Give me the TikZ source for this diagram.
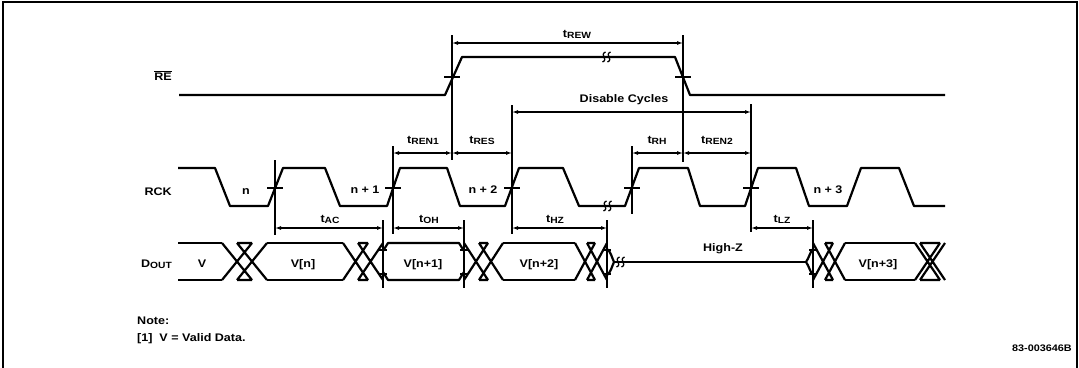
\documentclass[tikz,border=0pt]{standalone}
\usepackage{fontspec}
\setmainfont[FakeStretch=1.14]{Liberation Sans}
\usetikzlibrary{arrows.meta}
\newcommand{\tsb}[1]{t\raisebox{-1.6pt}{\fontsize{9}{10}\selectfont #1}}
\begin{document}
\begin{tikzpicture}[x=1pt,y=-1pt,
  font=\fontsize{11}{13}\selectfont\bfseries,
  sig/.style={line width=2.2pt,line join=round},
  thinl/.style={line width=1.1pt},
  dim/.style={line width=1.1pt,{Latex[length=6pt,width=4pt]}-{Latex[length=6pt,width=4pt]}},
  lbl/.style={inner sep=0pt,anchor=base},
  brk/.style={line width=1.3pt}]
\useasboundingbox (0,0) rectangle (1079,367);
\draw[line width=2pt] (3,370) -- (3,2) -- (1077,2) -- (1077,370);

% signal names
\node[lbl,anchor=base east] (lRE) at (172,80) {\(\overline{\mbox{\bfseries RE}}\)};
\node[lbl,anchor=base east] (lRCK) at (172,195) {RCK};
\node[lbl,anchor=base east] (lD) at (172,267) {D\raisebox{-1pt}{\fontsize{9}{10}\selectfont OUT}};

% RE waveform
\draw[sig] (179,95) -- (445,95) -- (462,57) -- (675,57) -- (690,95) -- (945,95);
\draw[thinl] (444,77) -- (460,77);
\draw[thinl] (675,77) -- (691,77);
\foreach \x in {604,609} \draw[brk] (\x+1.5,52) .. controls (\x-5,55) and (\x+5,59) .. (\x-1.5,62);

% RCK waveform
\draw[sig] (178,168) -- (215,168) -- (230,206) -- (268,206) -- (283,168) -- (325,168)
  -- (340,206) -- (387,206) -- (400,168) -- (447,168) -- (460,206) -- (505,206)
  -- (519,168) -- (563,168) -- (579,206) -- (625,206) -- (639,168) -- (688,168)
  -- (700,206) -- (745,206) -- (758,168) -- (796,168) -- (809,206) -- (847,206)
  -- (861,168) -- (899,168) -- (914,206) -- (945,206);
\foreach \x in {275,393,512,632,751} \draw[thinl] (\x-8,188) -- (\x+8,188);
\foreach \x in {605,610} \draw[brk] (\x+1.5,201) .. controls (\x-5,204) and (\x+5,208) .. (\x-1.5,211);
\node[lbl] (ln) at (246,194) {n};
\node[lbl] (ln1) at (365,193) {n + 1};
\node[lbl] (ln2) at (483,193) {n + 2};
\node[lbl] (ln3) at (828,193) {n + 3};

% DOUT waveform
\draw[sig] (178,243) -- (222,243) (178,280) -- (222,280);
\draw[sig] (222,243) -- (252,280) (222,280) -- (252,243) (237,243) -- (267,280) (237,280) -- (267,243)
  (237,243) -- (252,243) (237,280) -- (252,280);
\draw[sig] (267,243) -- (343,243) (267,280) -- (343,280);
\draw[sig] (343,243) -- (368,280) (343,280) -- (368,243) (358,243) -- (383,280) (358,280) -- (383,243)
  (358,243) -- (368,243) (358,280) -- (368,280);
\draw[sig] (383,251) -- (388,243) -- (459,243) -- (464,251) (383,272) -- (388,280) -- (459,280) -- (464,272);
\draw[sig] (464,243) -- (488,280) (464,280) -- (488,243) (479,243) -- (503,280) (479,280) -- (503,243)
  (479,243) -- (488,243) (479,280) -- (488,280);
\draw[sig] (503,243) -- (575,243) (503,280) -- (575,280);
\draw[sig] (575,243) -- (595,280) (575,280) -- (595,243) (587,243) -- (607,280) (587,280) -- (607,243)
  (587,243) -- (595,243) (587,280) -- (595,280);
\draw[sig] (607,249) .. controls (611,252) and (612,258) .. (614,262)
  (607,275) .. controls (611,272) and (612,266) .. (614,262);
\draw[sig] (614,262) -- (806,262);
\foreach \x in {618,623} \draw[brk] (\x+1.5,257) .. controls (\x-5,260) and (\x+5,264) .. (\x-1.5,267);
\draw[sig] (806,262) .. controls (809,258) and (810,252) .. (813,249)
  (806,262) .. controls (809,266) and (810,272) .. (813,275);
\draw[sig] (813,243) -- (833,280) (813,280) -- (833,243) (825,243) -- (845,280) (825,280) -- (845,243)
  (825,243) -- (833,243) (825,280) -- (833,280);
\draw[sig] (845,243) -- (915,243) (845,280) -- (915,280);
\draw[sig] (915,243) -- (940,280) (915,280) -- (940,243) (920,243) -- (945,280) (920,280) -- (945,243)
  (920,243) -- (940,243) (920,280) -- (940,280);
\foreach \x in {383,464,607,813} \draw[thinl] (\x-4,250) -- (\x+4,250) (\x-4,274) -- (\x+4,274);
\node[lbl] (lv) at (202,267) {V};
\node[lbl] (lvn) at (303,267) {V[n]};
\node[lbl] (lvn1) at (423,267) {V[n+1]};
\node[lbl] (lvn2) at (539,267) {V[n+2]};
\node[lbl] (lvn3) at (878,267) {V[n+3]};
\node[lbl] (lhz) at (723,251) {High-Z};

% extension lines
\draw[thinl] (452,35) -- (452,160);
\draw[thinl] (683,35) -- (683,162);
\draw[thinl] (512,105) -- (512,234);
\draw[thinl] (751,104) -- (751,232);
\draw[thinl] (393,146) -- (393,234);
\draw[thinl] (275,160) -- (275,235);
\draw[thinl] (632,146) -- (632,214);
\draw[thinl] (383,220) -- (383,288);
\draw[thinl] (464,220) -- (464,288);
\draw[thinl] (607,220) -- (607,288);
\draw[thinl] (813,220) -- (813,288);

% dimension arrows
\coordinate (rew1) at (452,43); \coordinate (rew2) at (683,43);
\draw[dim] (rew1) -- (rew2);
\node[lbl] (trew) at (577,37) {\tsb{REW}};
\coordinate (dc1) at (512,112); \coordinate (dc2) at (751,112);
\draw[dim] (dc1) -- (dc2);
\node[lbl] (tdc) at (624,102) {Disable Cycles};
\coordinate (r1a) at (393,153); \coordinate (r1b) at (452,153); \coordinate (r1c) at (512,153);
\draw[dim] (r1a) -- (r1b);
\draw[dim] (r1b) -- (r1c);
\node[lbl] (tren1) at (423,143) {\tsb{REN1}};
\node[lbl] (tres) at (482,143) {\tsb{RES}};
\coordinate (rha) at (632,153); \coordinate (rhb) at (683,153); \coordinate (rhc) at (751,153);
\draw[dim] (rha) -- (rhb);
\draw[dim] (rhb) -- (rhc);
\node[lbl] (trh) at (657,143) {\tsb{RH}};
\node[lbl] (tren2) at (717,143) {\tsb{REN2}};
\coordinate (aca) at (275,228); \coordinate (acb) at (383,228);
\draw[dim] (aca) -- (acb);
\node[lbl] (tac) at (330,222) {\tsb{AC}};
\coordinate (oha) at (393,228); \coordinate (ohb) at (464,228);
\draw[dim] (oha) -- (ohb);
\node[lbl] (toh) at (429,222) {\tsb{OH}};
\coordinate (hza) at (512,228); \coordinate (hzb) at (607,228);
\draw[dim] (hza) -- (hzb);
\node[lbl] (thz) at (555,222) {\tsb{HZ}};
\coordinate (lza) at (751,228); \coordinate (lzb) at (813,228);
\draw[dim] (lza) -- (lzb);
\node[lbl] (tlz) at (782,222) {\tsb{LZ}};

% notes
\node[lbl,anchor=base west] (note) at (137,324) {Note:};
\node[lbl,anchor=base west] (note1) at (137,341) {[1]\ \ V = Valid Data.};
\node[lbl,anchor=base east,font=\fontsize{9.5}{11}\selectfont\bfseries] (code) at (1072,351) {83-003646B};
\end{tikzpicture}
\end{document}
